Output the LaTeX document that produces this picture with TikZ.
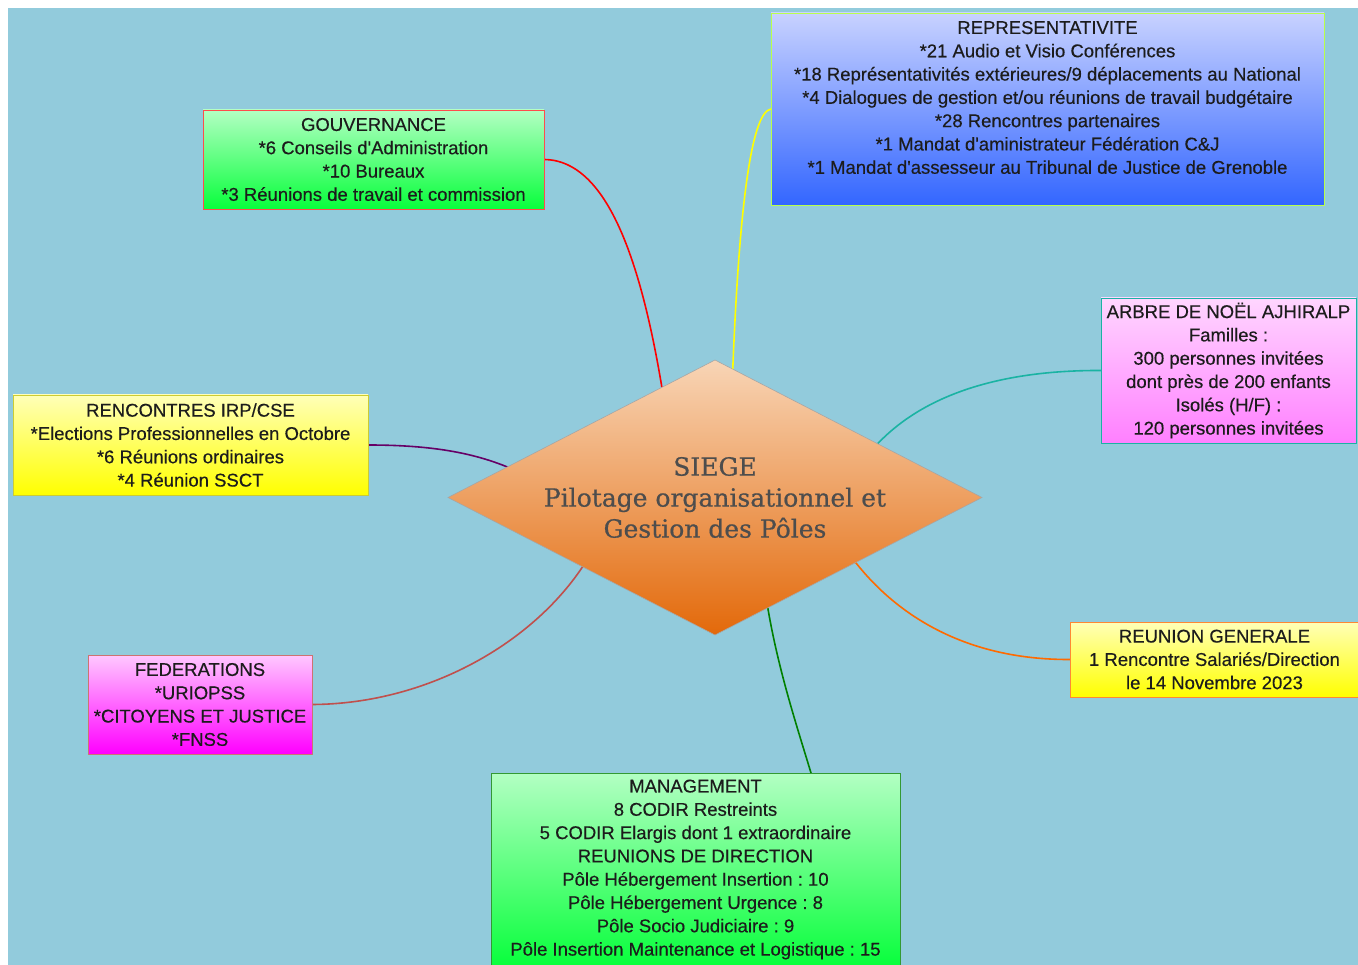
\documentclass[tikz,border=0pt]{standalone}
\usepackage{fontspec}
\setmainfont{Liberation Sans}[FakeBold=0.35]
\newfontfamily\slabfont{DejaVu Serif}[FakeBold=0.6]
\usetikzlibrary{shapes.geometric}
\definecolor{bgblue}{HTML}{92CBDC}
\definecolor{txt}{HTML}{1C1C1C}
\definecolor{siegetxt}{HTML}{4D4D4D}
\definecolor{cred}{HTML}{FF0000}
\definecolor{cyellow}{HTML}{FFFF00}
\definecolor{cteal}{HTML}{1AB3A3}
\definecolor{cpurple}{HTML}{660066}
\definecolor{corange}{HTML}{FF6A00}
\definecolor{cgreen}{HTML}{008000}
\definecolor{cbrown}{HTML}{C0504D}
\definecolor{greentop}{HTML}{B3FFC3}
\definecolor{greenbot}{HTML}{08FF3C}
\definecolor{bluetop}{HTML}{C8D2FF}
\definecolor{bluebot}{HTML}{3366FF}
\definecolor{pinktop}{HTML}{FFD6FF}
\definecolor{pinkbot}{HTML}{FF80FF}
\definecolor{yeltop}{HTML}{FFFFB8}
\definecolor{yelbot}{HTML}{FFFF00}
\definecolor{magtop}{HTML}{FFC8FF}
\definecolor{magbot}{HTML}{FF00FF}
\definecolor{peach}{HTML}{F8D5B6}
\definecolor{deeporange}{HTML}{E3690A}
\newcommand\apos{\textquotesingle}
\pgfdeclarelayer{bglayer}
\pgfdeclarelayer{linelayer}
\pgfsetlayers{bglayer,linelayer,main}
\frenchspacing
\begin{document}
\begin{tikzpicture}[x=1pt,y=-1pt,
  boxfont/.style={font=\fontsize{18.5}{23.3}\selectfont, text=txt},
  box/.style={rectangle, anchor=north west, align=center, inner sep=0pt, outer sep=0pt,
    boxfont, line width=0.8pt},
  conn/.style={line width=1.6pt}]
\useasboundingbox (0,0) rectangle (1358,965);
\begin{pgfonlayer}{bglayer}
  \fill[white] (0,0) rectangle (1358,965);
  \fill[bgblue] (8,8) rectangle (1358,965);
\end{pgfonlayer}

% central diamond
\node[diamond, minimum width=534pt, minimum height=275pt, inner sep=0pt, outer sep=0pt,
  top color=peach, bottom color=deeporange, draw=gray!70, line width=0.6pt] (siege) at (715,497.5) {};
\node[align=center, font=\slabfont\fontsize{25}{31}\selectfont, text=siegetxt] (siegetext) at (siege.center)
  {SIEGE\\Pilotage organisationnel et\\Gestion des Pôles};

% boxes
\node[box, minimum width=341pt, minimum height=99pt, top color=greentop, bottom color=greenbot, draw=cred!70] (gouv) at (203,110)
  {GOUVERNANCE\\*6 Conseils d\apos Administration\\*10 Bureaux\\*3 Réunions de travail et commission};
\node[box, minimum width=553pt, minimum height=192pt, top color=bluetop, bottom color=bluebot, draw=cyellow!60!green!70!white] (rep) at (771,13) {};
\node[align=center, inner sep=0pt, boxfont] (reptext) at ([yshift=11.5pt]rep.center)
  {REPRESENTATIVITE\\*21 Audio et Visio Conférences\\*18 Représentativités extérieures/9 déplacements au National\\*4 Dialogues de gestion et/ou réunions de travail budgétaire\\*28 Rencontres partenaires\\*1 Mandat d\apos aministrateur Fédération C\&J\\*1 Mandat d\apos assesseur au Tribunal de Justice de Grenoble};
\node[box, minimum width=255pt, minimum height=145pt, top color=pinktop, bottom color=pinkbot, draw=cteal] (arbre) at (1101,298)
  {ARBRE DE NOËL AJHIRALP\\Familles :\\300 personnes invitées\\dont près de 200 enfants\\Isolés (H/F) :\\120 personnes invitées};
\node[box, minimum width=355pt, minimum height=100pt, top color=yeltop, bottom color=yelbot, draw=yelbot!60!gray] (renc) at (13,395)
  {RENCONTRES IRP/CSE\\*Elections Professionnelles en Octobre\\*6 Réunions ordinaires\\*4 Réunion SSCT};
\node[box, minimum width=224pt, minimum height=99pt, top color=magtop, bottom color=magbot, draw=cbrown!80] (fed) at (88,655)
  {FEDERATIONS\\*URIOPSS\\*CITOYENS ET JUSTICE\\*FNSS};
\node[box, minimum width=289pt, minimum height=75pt, top color=yeltop, bottom color=yelbot, draw=corange!80] (reun) at (1070,622)
  {REUNION GENERALE\\1 Rencontre Salariés/Direction\\le 14 Novembre 2023};
\node[box, minimum width=409pt, minimum height=193pt, top color=greentop, bottom color=greenbot, draw=cgreen!80] (man) at (491,773)
  {MANAGEMENT\\8 CODIR Restreints\\5 CODIR Elargis dont 1 extraordinaire\\REUNIONS DE DIRECTION\\Pôle Hébergement Insertion : 10\\Pôle Hébergement Urgence : 8\\Pôle Socio Judiciaire : 9\\Pôle Insertion Maintenance et Logistique : 15};

% connector ends hidden under the diamond
\coordinate (redend) at (667,420);
\coordinate (yelend) at (732,390);
\coordinate (tealend) at (872,450);
\coordinate (purend) at (525,475);
\coordinate (orend) at (850,555);
\coordinate (grend) at (765,590);
\coordinate (brend) at (590,555);

\begin{pgfonlayer}{linelayer}
  \draw[conn, cred] (gouv.east) .. controls (610,160) and (645,270) .. (redend);
  \draw[conn, cyellow] (rep.west) .. controls (750,112) and (738,220) .. (yelend);
  \draw[conn, cteal] (arbre.west) .. controls (990,370) and (915,400) .. (tealend);
  \draw[conn, cpurple] (renc.east) .. controls (440,445) and (485,455) .. (purend);
  \draw[conn, corange] (reun.west) .. controls (960,660) and (890,610) .. (orend);
  \draw[conn, cgreen] ([xshift=320pt]man.north west) .. controls (795,720) and (775,660) .. (grend);
  \draw[conn, cbrown] (fed.east) .. controls (430,704) and (540,640) .. (brend);
\end{pgfonlayer}
\end{tikzpicture}
\end{document}
